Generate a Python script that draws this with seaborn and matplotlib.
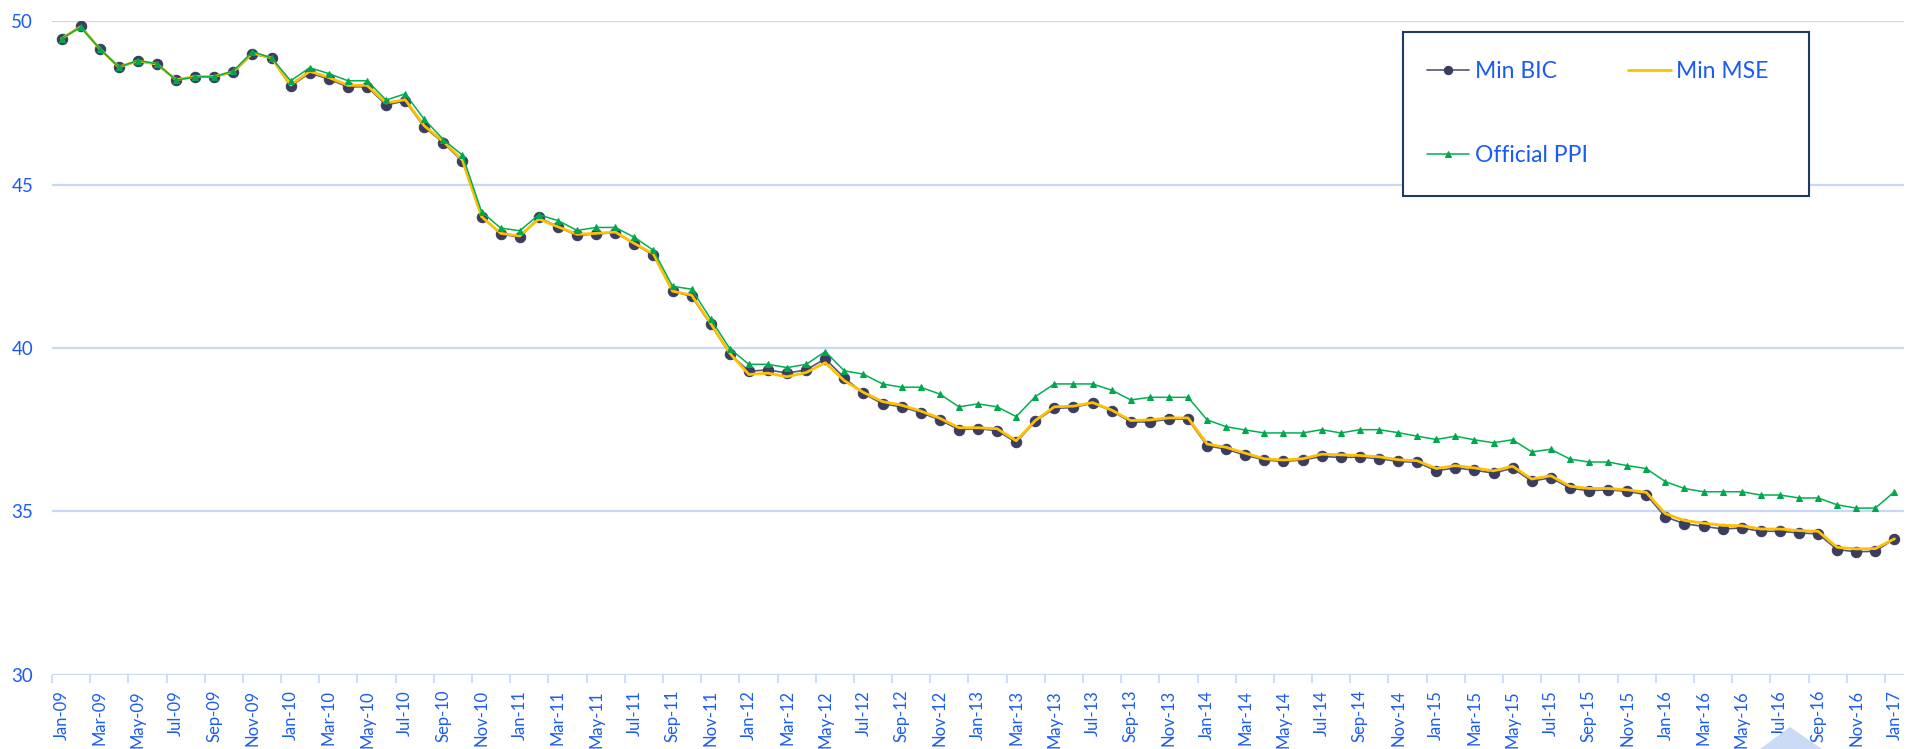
import numpy as np
import pandas as pd
import matplotlib
matplotlib.use("Agg")
import matplotlib.pyplot as plt
import seaborn as sns
from matplotlib.patches import Rectangle, Polygon

# ---------------------------------------------------------------
# dados - Jan-09 .. Jan-17, mensal
# ---------------------------------------------------------------
meses = pd.date_range("2009-01-01", "2017-01-01", freq="MS").strftime("%b-%y").tolist()

min_bic = [
    49.46, 49.86, 49.16, 48.59, 48.78, 48.68, 48.20, 48.30, 48.30, 48.44, 49.00, 48.87,
    48.01, 48.42, 48.23, 47.99, 48.00, 47.44, 47.56, 46.76, 46.28, 45.71, 44.02, 43.49,
    43.39, 44.00, 43.71, 43.45, 43.49, 43.53, 43.19, 42.84, 41.74, 41.58, 40.72, 39.82,
    39.29, 39.33, 39.23, 39.33, 39.67, 39.09, 38.61, 38.29, 38.20, 38.02, 37.80, 37.50,
    37.53, 37.47, 37.11, 37.76, 38.15, 38.18, 38.31, 38.08, 37.73, 37.74, 37.82, 37.82,
    37.01, 36.90, 36.72, 36.57, 36.53, 36.57, 36.68, 36.65, 36.66, 36.61, 36.53, 36.50,
    36.24, 36.33, 36.26, 36.17, 36.32, 35.92, 36.03, 35.71, 35.63, 35.66, 35.61, 35.51,
    34.83, 34.62, 34.54, 34.46, 34.49, 34.39, 34.39, 34.34, 34.31, 33.83, 33.76, 33.78,
    34.16,
]

min_mse = [
    49.47, 49.83, 49.16, 48.60, 48.79, 48.69, 48.21, 48.31, 48.31, 48.46, 49.03, 48.88,
    48.05, 48.47, 48.28, 48.04, 48.04, 47.50, 47.60, 46.80, 46.32, 45.75, 44.02, 43.51,
    43.43, 43.95, 43.71, 43.48, 43.51, 43.55, 43.20, 42.88, 41.74, 41.62, 40.75, 39.84,
    39.19, 39.23, 39.12, 39.25, 39.55, 39.00, 38.64, 38.36, 38.25, 38.07, 37.85, 37.56,
    37.56, 37.53, 37.16, 37.78, 38.20, 38.22, 38.33, 38.10, 37.78, 37.80, 37.86, 37.86,
    37.06, 36.96, 36.78, 36.61, 36.57, 36.61, 36.75, 36.73, 36.71, 36.67, 36.58, 36.55,
    36.31, 36.40, 36.33, 36.24, 36.38, 35.99, 36.09, 35.77, 35.70, 35.70, 35.66, 35.58,
    34.93, 34.72, 34.64, 34.57, 34.56, 34.46, 34.46, 34.41, 34.39, 33.90, 33.85, 33.86,
    34.16,
]

official_ppi = [
    49.47, 49.82, 49.16, 48.60, 48.80, 48.70, 48.20, 48.30, 48.30, 48.48, 49.07, 48.88,
    48.18, 48.58, 48.40, 48.18, 48.18, 47.59, 47.78, 47.00, 46.38, 45.90, 44.17, 43.67,
    43.59, 44.08, 43.90, 43.60, 43.69, 43.69, 43.39, 42.99, 41.89, 41.80, 40.89, 39.98,
    39.50, 39.50, 39.40, 39.50, 39.89, 39.30, 39.20, 38.90, 38.80, 38.80, 38.59, 38.20,
    38.29, 38.20, 37.90, 38.51, 38.90, 38.90, 38.90, 38.71, 38.41, 38.49, 38.49, 38.49,
    37.80, 37.59, 37.49, 37.40, 37.40, 37.40, 37.50, 37.40, 37.50, 37.50, 37.41, 37.30,
    37.20, 37.30, 37.19, 37.10, 37.19, 36.82, 36.90, 36.60, 36.51, 36.51, 36.40, 36.31,
    35.91, 35.70, 35.60, 35.60, 35.60, 35.50, 35.50, 35.41, 35.41, 35.20, 35.10, 35.10,
    35.60,
]

yticks = [30, 35, 40, 45, 50]

# ---------------------------------------------------------------
# estilo
# ---------------------------------------------------------------
sns.set_theme(style="white")
plt.rcParams["font.family"] = ["Lato", "DejaVu Sans"]

AZUL_TXT = "#1a5cf2"
GRADE = "#c8d8f8"

W, H = 1911, 749
fig = plt.figure(figsize=(W / 100, H / 100), dpi=100)
ax = fig.add_axes([52 / W, 1 - 674.7 / H, (1904 - 52) / W, (674.7 - 21.3) / H])

pos = np.arange(len(meses))

sns.lineplot(x=pos, y=min_bic, ax=ax, color="#55557a", linewidth=1.2,
             marker="o", markersize=7.5, markerfacecolor="#3a3d60",
             markeredgecolor="#3a3d60", label="Min BIC", legend=False, zorder=3)
sns.lineplot(x=pos, y=min_mse, ax=ax, color="#ffc000", linewidth=2.0,
             label="Min MSE", legend=False, zorder=4)
sns.lineplot(x=pos, y=official_ppi, ax=ax, color="#00b050", linewidth=1.1,
             marker="^", markersize=5, markerfacecolor="#00a84d",
             markeredgecolor="#00a84d", label="Official PPI", legend=False, zorder=5)

# eixos
ax.set_xlim(-0.5, len(meses) - 0.5)
ax.set_ylim(30, 50)
ax.set_yticks(yticks)
ax.set_yticklabels([str(v) for v in yticks])
ax.grid(False)
for v in yticks:
    ax.axhline(v, color=GRADE, linewidth=1.6, zorder=1)
for s in ax.spines.values():
    s.set_visible(False)

ax.set_xticks(pos[::2])
ax.set_xticklabels(meses[::2], rotation=90)
ax.set_xticks(np.arange(-0.5, len(meses), 2), minor=True)
ax.tick_params(axis="x", which="major", length=0, pad=11, labelsize=12, labelcolor=AZUL_TXT)
ax.tick_params(axis="x", which="minor", length=6, width=1.2, color=GRADE, bottom=True)
ax.tick_params(axis="y", length=0, pad=13.5, labelsize=13.5, labelcolor=AZUL_TXT)
ax.set_xlabel("")
ax.set_ylabel("")

# legenda com moldura
linhas = ax.get_lines()
h_bic, h_mse, h_ppi = linhas[0], linhas[1], linhas[2]
leg = fig.legend([h_bic, h_ppi, h_mse], ["Min BIC", "Official PPI", "Min MSE"],
                 ncol=2, loc="upper left", bbox_to_anchor=(1427 / W, 1 - 61 / H),
                 frameon=False, fontsize=16.5, handlelength=1.85, handletextpad=0.25,
                 columnspacing=1.75, labelspacing=2.75, markerscale=0.8,
                 borderpad=0, borderaxespad=0)
for t in leg.get_texts():
    t.set_color(AZUL_TXT)

fig.patches.append(Rectangle((1403 / W, 1 - 196 / H), (1809 - 1403) / W, (196 - 32) / H,
                             transform=fig.transFigure, fill=True, facecolor="white",
                             edgecolor="#203864", linewidth=1.5, zorder=0))
leg.set_zorder(10)

# triângulo claro no rodapé
fig.patches.append(Polygon([(1790 / W, 1 - 727 / H), (1760 / W, 0), (1822 / W, 0)],
                           closed=True, transform=fig.transFigure,
                           facecolor="#cbdaf7", edgecolor="none", zorder=0))

fig.savefig("out.png", dpi=100)
